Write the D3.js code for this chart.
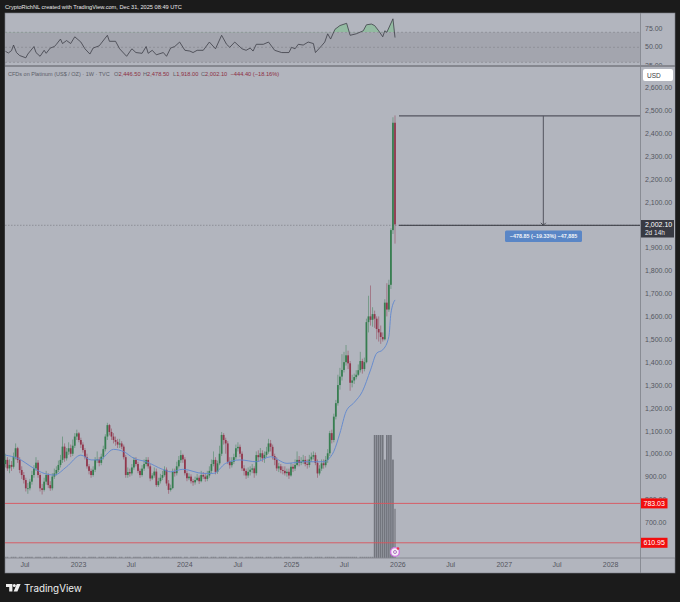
<!DOCTYPE html>
<html>
<head>
<meta charset="utf-8">
<script src="https://cdn.jsdelivr.net/npm/d3@7"></script>
<style>
  html, body { margin: 0; padding: 0; background: #1b1b1b; }
  svg { display: block; }
  text { font-family: "Liberation Sans", sans-serif; }
</style>
</head>
<body>
<div id="container"></div>
<script>
/* CONSTANTS AND DATA */
const width = 680, height = 602;

// weekly platinum candles
const opens = [
  955,973,936,951,943,987,1024,973,929,907, 885,849,849,878,907,936,961,907,849,842,
  878,907,863,849,900,914,929,951,973,1031, 980,1009,1024,1000,1035,1075,1089,1060,1040,1016,
  985,945,925,907,930,973,975,960,987,1020, 1075,1125,1095,1075,1060,1052,1040,1045,1031,985,
  907,920,914,940,973,955,925,907,935,955, 973,945,892,905,922,863,880,895,907,930,
  870,842,850,921,915,945,972,994,975,915, 893,900,880,875,885,895,880,907,900,890,
  905,925,955,973,921,958,1000,1082,1060,1045, 965,950,965,985,1024,1030,1000,936,925,905,
  921,930,936,915,994,985,1002,980,995,1009, 1045,1030,990,973,936,945,929,925,915,921,
  905,943,935,951,973,960,965,973,955,951, 975,987,994,960,914,935,958,950,973,1002,
  1090,1060,1162,1221,1300,1337,1366,1400,1430,1395, 1310,1320,1335,1345,1365,1405,1370,1400,1575,1600,
  1585,1610,1590,1545,1530,1510,1500,1660,1630,1738,1977,2446
];
const highs = [
  1000,985,975,968,1005,1045,1030,985,945,920, 895,872,890,925,950,985,972,915,868,895,
  925,915,880,915,935,945,970,995,1075,1045, 1025,1050,1040,1062,1090,1105,1095,1070,1050,1025,
  1000,955,935,945,985,1010,985,1000,1035,1085, 1135,1130,1110,1090,1075,1065,1065,1055,1040,995,
  940,935,955,985,985,965,935,950,975,985, 985,955,915,940,935,895,912,925,945,940,
  885,865,935,935,965,990,1015,1000,985,925, 915,910,890,900,912,905,925,920,915,925,
  945,975,1010,985,970,1035,1095,1090,1070,1055, 985,985,1000,1040,1050,1040,1010,950,935,940,
  945,955,945,1010,1015,1025,1015,1010,1030,1065, 1060,1040,1000,985,960,955,945,945,935,935,
  960,955,975,1010,990,985,995,990,975,995, 1005,1010,1005,975,950,975,975,990,1020,1100,
  1105,1175,1235,1345,1375,1435,1445,1475,1450,1405, 1345,1350,1365,1390,1445,1415,1420,1590,1690,1735,
  1640,1625,1600,1600,1560,1530,1675,1745,1760,1985,2470,2478
];
const lows = [
  940,925,915,925,935,975,960,915,890,870, 835,825,840,865,895,925,895,835,822,835,
  865,850,838,840,890,905,920,940,960,965, 970,995,985,990,1025,1060,1050,1025,1005,975,
  935,910,895,900,920,960,945,950,975,1010, 1060,1080,1060,1045,1035,1025,1025,1020,975,895,
  895,900,905,930,945,915,895,900,925,945, 935,880,885,895,855,855,870,885,900,860,
  825,835,845,900,905,935,960,960,905,880, 885,870,860,865,880,868,875,890,878,880,
  895,915,945,910,912,950,990,1040,1000,955, 935,940,955,975,1010,985,925,905,890,895,
  905,915,895,905,965,970,965,960,985,1000, 1010,975,950,925,920,915,910,905,900,890,
  900,920,925,945,945,950,955,945,935,940, 965,975,950,895,905,925,935,940,960,990,
  1045,1050,1150,1210,1280,1320,1355,1385,1370,1275, 1290,1305,1325,1340,1355,1350,1360,1395,1530,1560,
  1555,1550,1500,1490,1480,1490,1495,1600,1620,1720,1960,1918
];
const closes = [
  973,936,951,943,987,1024,973,929,907,885, 849,849,878,907,936,961,907,849,842,878,
  907,863,849,900,914,929,951,973,1031,980, 1009,1024,1000,1035,1075,1089,1060,1040,1016,985,
  945,925,907,930,973,975,960,987,1020,1075, 1125,1095,1075,1060,1052,1040,1045,1031,985,907,
  920,914,940,973,955,925,907,935,955,973, 945,892,905,922,863,880,895,907,930,870,
  842,850,921,915,945,972,994,975,915,893, 900,880,875,885,895,880,907,900,890,905,
  925,955,973,921,958,1000,1082,1060,1045,965, 950,965,985,1024,1030,1000,936,925,905,921,
  930,936,915,994,985,1002,980,995,1009,1045, 1030,990,973,936,945,929,925,915,921,905,
  943,935,951,973,960,965,973,955,951,975, 987,994,960,914,935,958,950,973,1002,1090,
  1060,1162,1221,1300,1337,1366,1400,1430,1395,1310, 1320,1335,1345,1365,1405,1370,1400,1575,1600,1585,
  1610,1590,1545,1530,1510,1500,1660,1630,1738,1977,2446,2002
];
const volumes = [
  1,1,0,1,1,1,0,1,1,0, 1,1,1,1,0,1,1,1,0,1, 1,1,1,0,1,1,0,1,1,1,
  1,0,1,1,1,1,1,0,1,1, 0,1,1,1,1,0,1,1,1,0, 1,1,1,1,1,0,1,1,0,1,
  1,1,0,1,1,1,1,0,1,1, 1,1,0,1,1,1,0,1,1,1, 1,0,1,1,1,1,1,0,1,1,
  0,1,1,1,1,0,1,1,1,1, 0,1,1,1,0,1,1,1,1,0, 1,1,1,1,0,1,1,0,1,1,
  1,1,0,1,1,1,1,0,1,1, 1,0,1,1,1,1,0,1,1,1, 0,1,1,1,1,1,0,1,1,1,
  1,0,1,1,1,1,0,1,1,1, 1,1,0,1,1,1,1,1,1,1, 1,1,1,0,1,1,1,1,1,1,
  1,100,100,100,100,100,80,100,100,100,80,40
];

// blue moving average, read at the weeks where it bends
const maWeeks = [0,6,14,19,24,30,37,42,46,53,58,63,69,77,81,87,97,102,108,115,123,130,138,146,157,158,161,164,167,171,175,179,182,185,188,189,191];
const maValues = [994,980,936,914,907,943,994,973,973,1019,1009,980,965,932,921,932,914,914,958,973,965,987,958,965,965,973,1010,1090,1184,1224,1272,1366,1439,1454,1512,1614,1672];

// RSI pane
const rsiWeeks = [0,1.5,3,4,5.5,7,10,11,14,15,17,19,20,22,24,25,27,28,30,32,34,37,39,41.5,43,46,50,51,54,56,59.5,62,64,67,69,70,72,74,77.5,79,81,83,85.5,88,90.5,92,94,97,100,103,106,108.5,110,112.5,116,118,120,121.5,123,126.5,129,132,135.5,139,140.4,142,143.6,146,148.5,151,152,155,156.7,158,159.5,161.6,164,167.3,169,172,175.5,177,179.5,181,183,185,186,187,190,191];
const rsiValues = [44.7,42.4,45.6,53,43,39,36,41,51,43,38,46,42,49,51,54,61,55,59,55,64,57,48,41,49,52,66,58,58,48,38,48,43,42,51,42,46,40,43,38,49,51,57,46,45,43,46,46,57,48,66,54,50,57,48,46,49,45,54,54,57,46,43,43,50,48,54,53,57,55,43,52,57,68,61,74,79,82,66,68,72,80,81,79,72,64,72,70,88,63];

const priceTicks = [2600,2500,2400,2300,2200,2100,2000,1900,1800,1700,1600,1500,1400,1300,1200,1100,1000,900,800,700];
const rsiTicks = [75,50,25];
const rsiBands = [70,50,30];
const timeTicks = ["2022-07-01","2023-01-01","2023-07-01","2024-01-01","2024-07-01","2025-01-01","2025-07-01","2026-01-01","2026-07-01","2027-01-01","2027-07-01","2028-01-01"];
const timeLabels = ["Jul","2023","Jul","2024","Jul","2025","Jul","2026","Jul","2027","Jul","2028"];
const priceLines = [783.03, 610.95];
const legendLetters = ["O","H","L","C",""];
const legendValues = ["2,446.50","2,478.50","1,918.00","2,002.10","−444.40 (−18.16%)"];
const measurePrices = [2476, 1998];

const paneBg = "#b2b5be", textGray = "#54565f", lineGray = "#85878f";
const upColor = "#2f7a49", downColor = "#8f2f45";

/* SCALES */
const lastWeek = new Date(2025, 11, 29);
const weekDate = i => d3.timeDay.offset(lastWeek, (i - (closes.length - 1)) * 7);
const xScale = d3.scaleTime()
  .domain([weekDate(0), weekDate(closes.length - 1)])
  .range([5.4, 395]);
const yScale = d3.scaleLinear().domain([2600, 700]).range([87.5, 522.4]);
const rsiScale = d3.scaleLinear().domain([70, 30]).range([32.3, 62.3]);
const volScale = d3.scaleLinear().domain([0, 100]).range([558, 435]);

const svg = d3.select("#container").append("svg")
  .attr("width", width)
  .attr("height", height)
  .style("background-color", "#1b1b1b");

/* PANES */
svg.append("rect").attr("x", 5).attr("y", 13).attr("width", 670).attr("height", 560)
  .attr("fill", paneBg).attr("stroke", "#7b7d85").attr("stroke-width", 0.6);

/* RSI PANE */
svg.append("rect")
  .attr("x", 5).attr("width", 635)
  .attr("y", rsiScale(70)).attr("height", rsiScale(30) - rsiScale(70))
  .attr("fill", "#a3a5ae");

svg.selectAll(".rsi-band").data(rsiBands).join("line")
  .attr("class", "rsi-band")
  .attr("x1", 5).attr("x2", 640)
  .attr("y1", d => rsiScale(d)).attr("y2", d => rsiScale(d))
  .attr("stroke", "#868891").attr("stroke-width", 0.7).attr("stroke-dasharray", "2,2");

const rsiData = rsiWeeks.map((w, i) => ({ w, v: rsiValues[i] }));
const rsiX = d => xScale(weekDate(d.w));

svg.append("clipPath").attr("id", "rsi-over")
  .append("rect").attr("x", 5).attr("y", 13).attr("width", 635).attr("height", rsiScale(70) - 13);

svg.append("path").datum(rsiData)
  .attr("clip-path", "url(#rsi-over)")
  .attr("fill", "#7fc08f").attr("opacity", 0.6)
  .attr("d", d3.area().x(rsiX).y0(rsiScale(70)).y1(d => rsiScale(d.v)));

svg.append("path").datum(rsiData)
  .attr("fill", "none").attr("stroke", "#3d3f47").attr("stroke-width", 0.8)
  .attr("d", d3.line().x(rsiX).y(d => rsiScale(d.v)));

svg.append("g").attr("class", "rsi-axis")
  .attr("transform", "translate(640,-0.7)")
  .call(d3.axisRight(rsiScale).tickValues(rsiTicks).tickSize(0).tickPadding(5).tickFormat(d3.format(".2f")))
  .call(g => g.select(".domain").remove())
  .call(g => g.selectAll("text").attr("fill", textGray).style("font-size", "7px"));

/* MAIN PANE */
svg.append("rect").attr("x", 5).attr("y", 66).attr("width", 669.7).attr("height", 492).attr("fill", paneBg);
svg.append("line").attr("x1", 5).attr("x2", 675).attr("y1", 66).attr("y2", 66)
  .attr("stroke", lineGray).attr("stroke-width", 1.8);

svg.append("g").attr("class", "y-axis")
  .attr("transform", "translate(640,0)")
  .call(d3.axisRight(yScale).tickValues(priceTicks).tickSize(0).tickPadding(5).tickFormat(d3.format(",.2f")))
  .call(g => g.select(".domain").remove())
  .call(g => g.selectAll("text").attr("fill", textGray).style("font-size", "7px"));

// volume
svg.selectAll(".vol").data(volumes).join("rect")
  .attr("class", "vol")
  .attr("x", (d, i) => xScale(weekDate(i)) - 0.8)
  .attr("width", 1.6)
  .attr("y", d => volScale(d))
  .attr("height", d => volScale(0) - volScale(d))
  .attr("fill", "#4b4d55")
  .attr("opacity", d => d > 50 ? 0.62 : 0.45);

// horizontal levels
svg.selectAll(".level").data(priceLines).join("line")
  .attr("class", "level")
  .attr("x1", 5).attr("x2", 640)
  .attr("y1", d => yScale(d)).attr("y2", d => yScale(d))
  .attr("stroke", "#d9545c").attr("stroke-width", 0.9);

// last price line
svg.append("line")
  .attr("x1", 5).attr("x2", 640)
  .attr("y1", yScale(measurePrices[1])).attr("y2", yScale(measurePrices[1]))
  .attr("stroke", "#7d7f88").attr("stroke-width", 0.7).attr("stroke-dasharray", "1.5,1.5");

// candles
const candles = closes.map((c, i) => ({ i, o: opens[i], h: highs[i], l: lows[i], c }));
const candleColor = d => d.c >= d.o ? upColor : downColor;

svg.selectAll(".wick").data(candles).join("line")
  .attr("class", "wick")
  .attr("x1", d => xScale(weekDate(d.i))).attr("x2", d => xScale(weekDate(d.i)))
  .attr("y1", d => yScale(d.h)).attr("y2", d => yScale(d.l))
  .attr("stroke", candleColor).attr("stroke-width", 0.9).attr("opacity", 0.5);

svg.selectAll(".body").data(candles).join("rect")
  .attr("class", "body")
  .attr("x", d => xScale(weekDate(d.i)) - 0.9)
  .attr("width", 1.8)
  .attr("y", d => yScale(Math.max(d.o, d.c)))
  .attr("height", d => Math.max(0.8, Math.abs(yScale(d.o) - yScale(d.c))))
  .attr("fill", candleColor)
  .attr("opacity", 0.9);

// moving average
svg.append("path").datum(maWeeks.map((w, i) => ({ w, v: maValues[i] })))
  .attr("fill", "none").attr("stroke", "#5f87cf").attr("stroke-width", 0.9)
  .attr("d", d3.line().curve(d3.curveMonotoneX).x(d => xScale(weekDate(d.w))).y(d => yScale(d.v)));

/* MEASURE TOOL */
const measureTop = yScale(measurePrices[0]), measureBottom = yScale(measurePrices[1]), measureX = xScale(new Date(2027, 4, 22));
svg.append("line").attr("x1", 399).attr("x2", 640).attr("y1", measureTop).attr("y2", measureTop)
  .attr("stroke", "#53555f").attr("stroke-width", 1.1);
svg.append("line").attr("x1", 399).attr("x2", 640).attr("y1", measureBottom).attr("y2", measureBottom)
  .attr("stroke", "#33353c").attr("stroke-width", 1);
svg.append("line").attr("x1", measureX).attr("x2", measureX).attr("y1", measureTop).attr("y2", measureBottom)
  .attr("stroke", "#53555f").attr("stroke-width", 1);
svg.append("path")
  .attr("d", `M${measureX - 2.5},${measureBottom - 2.5}L${measureX},${measureBottom}L${measureX + 2.5},${measureBottom - 2.5}`)
  .attr("fill", "none").attr("stroke", "#3d3f47").attr("stroke-width", 0.9);

svg.append("rect").attr("x", 505).attr("y", 230.5).attr("width", 77).attr("height", 11.5).attr("rx", 1.5)
  .attr("fill", "#5a86c6");
svg.append("text").attr("x", 543.5).attr("y", 238.3).attr("text-anchor", "middle")
  .attr("fill", "#f2f4f8").style("font-size", "5.4px").style("font-weight", "bold")
  .text("−478.85 (−19.33%) −47,885");

/* TIME AXIS */
svg.append("line").attr("x1", 5).attr("x2", 675).attr("y1", 558).attr("y2", 558)
  .attr("stroke", lineGray).attr("stroke-width", 0.9);
svg.append("line").attr("x1", 640.5).attr("x2", 640.5).attr("y1", 13).attr("y2", 573)
  .attr("stroke", lineGray).attr("stroke-width", 0.9);

svg.append("g").attr("class", "x-axis")
  .attr("transform", "translate(1.5,558)")
  .call(d3.axisBottom(xScale)
    .tickValues(timeTicks.map(d => d3.timeParse("%Y-%m-%d")(d)))
    .tickSize(0).tickPadding(4)
    .tickFormat((d, i) => timeLabels[i]))
  .call(g => g.select(".domain").remove())
  .call(g => g.selectAll("text").attr("fill", textGray).style("font-size", "7px"));

/* PRICE LABELS */
svg.append("rect").attr("x", 643).attr("y", 69).attr("width", 30).attr("height", 12).attr("rx", 2).attr("fill", "#ffffff");
svg.append("text").attr("x", 647).attr("y", 77.5).attr("fill", "#3a3c44").style("font-size", "6.5px").text("USD");

svg.selectAll(".level-tag").data(priceLines).join("rect")
  .attr("class", "level-tag")
  .attr("x", 641).attr("width", 26.5)
  .attr("y", d => yScale(d) - 5).attr("height", 10)
  .attr("fill", "#f20d0d");
svg.selectAll(".level-text").data(priceLines).join("text")
  .attr("class", "level-text")
  .attr("x", 654.2).attr("y", d => yScale(d) + 2.5)
  .attr("text-anchor", "middle")
  .attr("fill", "#ffffff").style("font-size", "7px")
  .text(d3.format(".2f"));

svg.append("rect").attr("x", 641).attr("y", 220).attr("width", 33).attr("height", 17.5).attr("fill", "#383a43");
svg.append("text").attr("x", 645).attr("y", 227.3).attr("fill", "#ffffff").style("font-size", "7px").text("2,002.10");
svg.append("text").attr("x", 645).attr("y", 235.2).attr("fill", "#e6e7ea").style("font-size", "6.5px").text("2d 14h");

/* HEADER AND LEGEND */
svg.append("text").attr("x", 5).attr("y", 8.8).attr("fill", "#e8e8e8").style("font-size", "5.65px")
  .text("CryptoRichNL created with TradingView.com, Dec 31, 2025 08:49 UTC");

svg.append("text").attr("x", 8).attr("y", 76).attr("fill", "#5c5e68").style("font-size", "5.5px")
  .text("CFDs on Platinum (US$ / OZ) · 1W · TVC");

const legendX = [114, 143, 173, 201, 230.5];
const legend = svg.selectAll(".legend-val").data(legendValues).join("text")
  .attr("class", "legend-val")
  .attr("x", (d, i) => legendX[i]).attr("y", 76)
  .attr("fill", "#8d2f42").style("font-size", "5.7px");
legend.append("tspan").attr("fill", "#5c5e68").text((d, i) => legendLetters[i]);
legend.append("tspan").text(d => d);

/* EVENT ICON */
svg.append("circle").attr("cx", 395).attr("cy", 552).attr("r", 4.4)
  .attr("fill", "#f4eef6").attr("stroke", "#d074e2").attr("stroke-width", 1.4);
svg.append("circle").attr("cx", 395).attr("cy", 552).attr("r", 1.5)
  .attr("fill", "none").attr("stroke", "#9b5bb0").attr("stroke-width", 0.8);
svg.append("circle").attr("cx", 398).attr("cy", 548.5).attr("r", 1.3).attr("fill", "#f0334a");

/* TRADINGVIEW LOGO */
svg.append("path").attr("fill", "#eeeeee")
  .attr("d", "M6,584h6.4v7.6h-3.2v-4.6h-3.2zM16.8,584h3.8l-3.2,7.6h-3.8z");
svg.append("circle").attr("cx", 14.3).attr("cy", 585.5).attr("r", 1.5).attr("fill", "#eeeeee");
svg.append("text").attr("x", 24).attr("y", 592).attr("fill", "#eeeeee")
  .style("font-family", "Inter, sans-serif").style("font-size", "9.8px").style("font-weight", 400)
  .text("TradingView");
</script>
</body>
</html>
